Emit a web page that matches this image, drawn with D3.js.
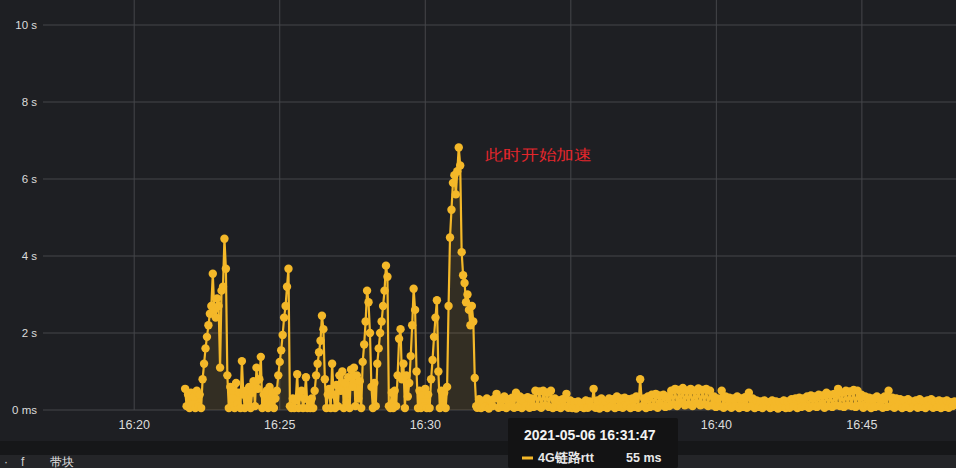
<!DOCTYPE html>
<html><head><meta charset="utf-8">
<script src="https://cdn.jsdelivr.net/npm/d3@7"></script>
<style>
html,body{margin:0;padding:0;background:#1e1f23;}
svg{display:block;}
text{font-family:"Liberation Sans","DejaVu Sans",sans-serif;}
</style></head>
<body><svg id="c" width="956" height="468"></svg>
<script>
// ---- data ----
const seriesName = "4G链路rtt";
const annotation = "此时开始加速";
const yTicks = [0, 2, 4, 6, 8, 10];
const yTickLabels = ["0 ms", "2 s", "4 s", "6 s", "8 s", "10 s"];
const xDomain = ["2021-05-06T16:16:52", "2021-05-06T16:48:14"];
// burst phase: one sample every 3 s starting 16:21:45 (seconds)
const burstStart = "2021-05-06T16:21:45";
const burstStep = 3;
const burstValues = [
0.55,0.1,0.4,0.05,0.45,0.15,0.35,0.05,0.5,0.1,0.4,0.05,
0.8,1.2,1.6,1.9,2.2,2.5,2.7,3.54,2.6,2.4,2.9,2.7,1.1,3.1,3.2,4.45,3.67,0.9,
0.05,0.6,0.1,0.5,0.05,0.7,0.15,0.45,0.05,1.27,0.4,0.05,0.5,0.1,0.6,0.05,0.45,0.75,0.1,1.1,
0.55,0.8,1.38,0.05,0.4,0.1,0.5,0.05,0.6,0.15,0.45,0.05,0.3,
0.5,0.9,1.25,1.55,1.95,2.4,2.7,3.2,3.67,0.1,
0.05,0.3,0.05,0.25,0.93,0.05,0.35,0.5,0.05,0.3,0.85,0.05,0.25,0.05,0.3,0.05,
0.5,0.9,1.2,1.5,1.8,2.45,2.1,0.8,0.05,
0.4,0.55,0.05,1.2,0.4,0.05,0.65,0.1,0.9,0.5,1.0,0.05,0.7,0.2,0.85,0.05,1.05,0.6,1.1,0.1,0.9,0.3,0.75,0.05,
1.25,1.7,2.3,3.1,2.8,2.0,0.6,0.05,0.7,0.1,
1.2,1.6,2.0,2.3,2.7,3.1,3.75,3.46,0.1,
0.05,0.45,0.05,0.5,0.1,0.9,1.85,2.1,0.8,1.2,0.05,0.9,0.35,0.7,
1.4,2.2,3.15,2.6,1.0,0.05,0.5,0.05,0.4,0.1,0.55,0.05,0.4,0.05,
0.8,1.3,1.9,2.4,2.85,1.0,0.05,0.5,0.1,0.45,0.05,0.6,
2.7,4.48,5.2,5.9,6.1,5.6,6.2,6.82,6.35,4.1,3.5,3.3,2.8,3.0,2.6,2.2,2.7,2.3,0.83,0.1
];
// accelerated phase: one sample every 4 s starting 16:31:47 (seconds)
const calmStart = "2021-05-06T16:31:47";
const calmStep = 4;
const calmValues = [
0.055,0.28,0.05,0.22,0.08,0.3,0.04,0.25,0.1,0.3,
0.42,0.06,0.3,0.08,0.35,0.05,0.28,0.1,0.32,0.06,
0.45,0.08,0.35,0.05,0.3,0.1,0.33,0.06,0.3,0.08,
0.5,0.1,0.48,0.06,0.5,0.12,0.45,0.08,0.5,0.05,
0.3,0.08,0.25,0.05,0.28,0.1,0.42,0.06,0.25,0.05,
0.2,0.04,0.22,0.08,0.18,0.05,0.25,0.06,0.22,0.1,
0.55,0.06,0.25,0.04,0.3,0.08,0.22,0.05,0.3,0.1,
0.28,0.05,0.35,0.08,0.3,0.06,0.32,0.1,0.28,0.05,
0.3,0.08,0.35,0.06,0.8,0.1,0.3,0.05,0.35,0.08,
0.4,0.1,0.42,0.06,0.38,0.12,0.4,0.08,0.35,0.1,
0.5,0.15,0.55,0.1,0.52,0.2,0.57,0.12,0.5,0.15,
0.55,0.1,0.5,0.18,0.56,0.12,0.52,0.15,0.55,0.1,
0.5,0.12,0.35,0.08,0.3,0.1,0.5,0.06,0.35,0.1,
0.32,0.06,0.3,0.1,0.35,0.05,0.3,0.08,0.33,0.06,
0.45,0.1,0.3,0.05,0.25,0.08,0.22,0.05,0.25,0.1,
0.2,0.05,0.25,0.08,0.22,0.04,0.2,0.08,0.25,0.05,
0.22,0.06,0.28,0.1,0.3,0.05,0.32,0.08,0.3,0.1,
0.35,0.06,0.38,0.1,0.35,0.08,0.4,0.12,0.38,0.06,
0.45,0.1,0.4,0.08,0.42,0.12,0.55,0.1,0.45,0.08,
0.5,0.12,0.48,0.1,0.52,0.08,0.5,0.12,0.4,0.06,
0.35,0.1,0.32,0.05,0.3,0.08,0.35,0.1,0.3,0.06,
0.35,0.08,0.5,0.1,0.32,0.06,0.3,0.1,0.28,0.05,
0.25,0.08,0.28,0.05,0.22,0.1,0.25,0.06,0.28,0.08,
0.22,0.05,0.25,0.1,0.28,0.06,0.22,0.08,0.25,0.05,
0.22,0.08,0.25,0.06,0.2,0.1,0.22
];
const tooltipTime = "2021-05-06 16:31:47";
const tooltipValue = "55 ms";

// ---- build ----
const parse = d3.isoParse;
const data = [];
burstValues.forEach((v, i) => data.push({t: d3.timeSecond.offset(parse(burstStart), i * burstStep), v}));
calmValues.forEach((v, i) => data.push({t: d3.timeSecond.offset(parse(calmStart), i * calmStep), v}));

const W = 956, H = 468;
const plotL = 43, plotR = 956, plotT = 0, plotB = 410;
const svg = d3.select("#c");
const yellow = "#f4b829";

const x = d3.scaleTime().domain(xDomain.map(parse)).range([plotL, plotR]);
const y = d3.scaleLinear().domain([0, 10]).range([plotB, 25]);

svg.append("rect").attr("x",0).attr("y",0).attr("width",W).attr("height",H).attr("fill","#1e1f23");
// bottom bands
svg.append("rect").attr("x",0).attr("y",441).attr("width",W).attr("height",14).attr("fill","#161719");
svg.append("rect").attr("x",0).attr("y",455).attr("width",W).attr("height",13).attr("fill","#242528");

// grid
const xt = x.ticks(d3.timeMinute.every(5));
svg.append("g").selectAll("line").data(xt).join("line")
  .attr("x1", d => x(d)).attr("x2", d => x(d)).attr("y1", plotT).attr("y2", plotB)
  .attr("stroke","#45464a").attr("stroke-width",1);
svg.append("g").selectAll("line").data(yTicks).join("line")
  .attr("x1", plotL).attr("x2", plotR).attr("y1", d => y(d)).attr("y2", d => y(d))
  .attr("stroke","#45464a").attr("stroke-width",1);

// y labels
svg.append("g").selectAll("text").data(yTicks).join("text")
  .attr("x", 37).attr("y", d => y(d) + 4).attr("text-anchor","end")
  .attr("fill","#dcdcdc").attr("font-size",11.5)
  .text((d,i) => yTickLabels[i]);

// tooltip box range (the 16:35 label sits under it)
const ttX = 508, ttW = 170;
// x labels
const fmt = d3.timeFormat("%H:%M");
svg.append("g").selectAll("text").data(xt.filter(d => x(d) < ttX - 20 || x(d) > ttX + ttW + 20)).join("text")
  .attr("x", d => x(d)).attr("y", 429).attr("text-anchor","middle")
  .attr("fill","#dcdcdc").attr("font-size",12.5)
  .text(d => fmt(d));

// area + line + markers
const g = svg.append("g");
g.append("path").datum(data)
  .attr("d", d3.area().x(d => x(d.t)).y0(y(0)).y1(d => y(d.v)))
  .attr("fill", yellow).attr("fill-opacity", 0.1);
g.append("path").datum(data)
  .attr("d", d3.line().x(d => x(d.t)).y(d => y(d.v)))
  .attr("fill","none").attr("stroke", yellow).attr("stroke-width",2.2);
g.selectAll("circle").data(data).join("circle")
  .attr("cx", d => x(d.t)).attr("cy", d => y(d.v)).attr("r", 4.2)
  .attr("fill", yellow);

// annotation
svg.append("text").attr("x", 485).attr("y", 160)
  .attr("fill","#e3262c").attr("font-size",15)
  .attr("font-family","'Noto Sans CJK SC',sans-serif")
  .attr("textLength",107).attr("lengthAdjust","spacingAndGlyphs")
  .text(annotation);

// bottom strip text (partly visible in the reference)
svg.append("text").attr("x",4).attr("y",466).attr("fill","#cfcfcf").attr("font-size",12).text("·");
svg.append("text").attr("x",21).attr("y",466).attr("fill","#cfcfcf").attr("font-size",12).text("f");
svg.append("text").attr("x",50).attr("y",466).attr("fill","#e0e0e0").attr("font-size",12)
  .attr("font-family","'Noto Sans CJK SC',sans-serif").text("带块");

// tooltip
const tt = svg.append("g");
tt.append("rect").attr("x",ttX).attr("y",418).attr("width",ttW).attr("height",50).attr("rx",2)
  .attr("fill","#131314");
tt.append("text").attr("x",524).attr("y",440).attr("fill","#f2f2f2").attr("font-size",14)
  .attr("font-weight","bold").text(tooltipTime);
tt.append("line").attr("x1",522).attr("x2",533).attr("y1",458).attr("y2",458)
  .attr("stroke",yellow).attr("stroke-width",3);
tt.append("text").attr("x",538).attr("y",462).attr("fill","#e8e8e8").attr("font-size",12.5)
  .attr("font-weight","bold").attr("font-family","'Noto Sans CJK SC',sans-serif").text(seriesName);
tt.append("text").attr("x",626).attr("y",462).attr("fill","#e8e8e8").attr("font-size",12.5)
  .attr("font-weight","bold").text(tooltipValue);
</script></body></html>
